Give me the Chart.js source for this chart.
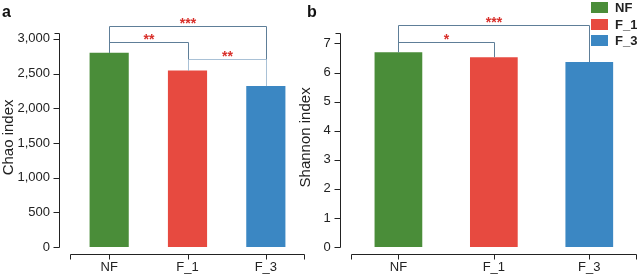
<!DOCTYPE html>
<html>
<head>
<meta charset="utf-8">
<script src="https://cdn.jsdelivr.net/npm/chart.js@4.4.1/dist/chart.umd.min.js"></script>
<style>
    body { margin: 0; background: #fff; }
    #wrap { position: relative; width: 637px; height: 275px; font-family: "Liberation Sans", Arial, sans-serif; }
    #chaoBox { position: absolute; left: 0; top: 0; width: 305px; height: 275px; }
    #shannonBox { position: absolute; left: 290px; top: 0; width: 347px; height: 275px; }
    .legend { position: absolute; left: 591px; font-weight: bold; font-size: 13px; color: #222; }
    .legend span { position: absolute; left: 0; top: 0; width: 17px; height: 11px; }
    .legend b { position: absolute; left: 24px; top: -2px; }
</style>
</head>
<body>
<div id="wrap">
    <div id="chaoBox"><canvas id="chaoChart"></canvas></div>
    <div id="shannonBox"><canvas id="shannonChart"></canvas></div>
    <div id="legend"></div>
</div>
<script>
// data
const groups = ['NF', 'F_1', 'F_3'];
const groupColors = ['#4a8d39', '#e74a40', '#3b87c3'];
const chaoValues = [2800, 2545, 2320];
const shannonValues = [6.70, 6.53, 6.36];
const chaoTicks = [0, 500, 1000, 1500, 2000, 2500, 3000];
const shannonTicks = [0, 1, 2, 3, 4, 5, 6, 7];

// significance brackets: [from, to, stars, level, light]
const chaoSig = [
    [0, 2, '***', 3190, false],
    [0, 1, '**', 2950, false],
    [1, 2, '**', 2710, true]
];
const shannonSig = [
    [0, 2, '***', 7.65, false],
    [0, 1, '*', 7.06, false]
];

const AXIS = '#222';

// legend on the right
const legendEl = document.getElementById('legend');
groups.forEach(function(g, i) {
    const row = document.createElement('div');
    row.className = 'legend';
    row.style.top = (2 + i * 16.5) + 'px';
    row.innerHTML = '<span style="background:' + groupColors[i] + '"></span><b>' + g + '</b>';
    legendEl.appendChild(row);
});

// axis lines offset from the bars, brackets and panel letter
const decorPlugin = {
    id: 'decor',
    afterDraw: function(chart) {
        const ctx = chart.ctx;
        const area = chart.chartArea;
        const xs = chart.scales.x;
        const ys = chart.scales.y;
        const opts = chart.options.plugins.decor;

        ctx.save();
        ctx.strokeStyle = AXIS;
        ctx.lineWidth = 1;

        // y axis
        const ax = Math.round(area.left - 11) + 0.5;
        const y0 = Math.round(ys.getPixelForValue(0)) + 0.5;
        const yTop = Math.round(ys.getPixelForValue(opts.axisTop)) + 0.5;
        ctx.beginPath();
        ctx.moveTo(ax, y0);
        ctx.lineTo(ax, yTop);
        ctx.moveTo(ax - 5, yTop);
        ctx.lineTo(ax, yTop);
        ys.ticks.forEach(function(t) {
            const py = Math.round(ys.getPixelForValue(t.value)) + 0.5;
            ctx.moveTo(ax - 6, py);
            ctx.lineTo(ax, py);
        });
        ctx.stroke();

        // x axis
        const bx = Math.round(area.bottom + 7) + 0.5;
        const xl = Math.round(area.left) + 0.5;
        const xr = Math.round(area.right) - 0.5;
        ctx.beginPath();
        ctx.moveTo(xl, bx);
        ctx.lineTo(xr, bx);
        [xl, xr].forEach(function(px) {
            ctx.moveTo(px, bx);
            ctx.lineTo(px, bx + 5);
        });
        groups.forEach(function(g, i) {
            const px = Math.round(xs.getPixelForValue(i)) + 0.5;
            ctx.moveTo(px, bx);
            ctx.lineTo(px, bx + 5);
        });
        ctx.stroke();

        // significance brackets
        const values = chart.data.datasets[0].data;
        const order = opts.sig.filter(s => !s[4]).concat(opts.sig.filter(s => s[4]));
        order.forEach(function(s) {
            const xa = Math.round(xs.getPixelForValue(s[0])) + 0.5;
            const xb = Math.round(xs.getPixelForValue(s[1])) + 0.5;
            const ly = Math.round(ys.getPixelForValue(s[3])) + 0.5;
            ctx.strokeStyle = s[4] ? '#a9c1d6' : '#5e7e98';
            ctx.beginPath();
            ctx.moveTo(xa, ys.getPixelForValue(values[s[0]]));
            ctx.lineTo(xa, ly);
            ctx.lineTo(xb, ly);
            ctx.lineTo(xb, ys.getPixelForValue(values[s[1]]));
            ctx.stroke();

            ctx.fillStyle = '#d8302b';
            ctx.font = 'bold 14px "Liberation Sans", Arial, sans-serif';
            ctx.textAlign = 'center';
            ctx.textBaseline = 'alphabetic';
            ctx.fillText(s[2], (xa + xb) / 2, ly + 1);
        });

        // panel letter
        ctx.fillStyle = '#111';
        ctx.font = 'bold 16px "Liberation Sans", Arial, sans-serif';
        ctx.textAlign = 'left';
        ctx.textBaseline = 'alphabetic';
        ctx.fillText(opts.letter, opts.letterX, 17);
        ctx.restore();
    }
};

function makeChart(id, values, yMax, tickValues, axisTop, title, sig, letter, letterX, padLeft, axisWidth) {
    const ctx = document.getElementById(id).getContext('2d');
    return new Chart(ctx, {
        type: 'bar',
        data: {
            labels: groups,
            datasets: [{
                data: values,
                backgroundColor: groupColors,
                borderWidth: 0,
                barPercentage: 0.5,
                categoryPercentage: 1
            }]
        },
        options: {
            responsive: true,
            maintainAspectRatio: false,
            animation: false,
            layout: {
                padding: { top: 23, left: padLeft, right: 0, bottom: 0 }
            },
            plugins: {
                legend: { display: false },
                tooltip: { enabled: false },
                decor: { axisTop: axisTop, sig: sig, letter: letter, letterX: letterX }
            },
            scales: {
                x: {
                    grid: { display: false, drawTicks: false },
                    border: { display: false },
                    ticks: {
                        color: AXIS,
                        padding: 13,
                        font: { family: '"Liberation Sans", Arial, sans-serif', size: 13 }
                    },
                    afterFit: function(scale) { scale.height = 28; }
                },
                y: {
                    min: 0,
                    max: yMax,
                    grid: { display: false, drawTicks: false },
                    border: { display: false },
                    afterBuildTicks: function(scale) {
                        scale.ticks = tickValues.map(function(v) { return { value: v }; });
                    },
                    ticks: {
                        color: AXIS,
                        padding: 20,
                        font: { family: '"Liberation Sans", Arial, sans-serif', size: 13 },
                        callback: function(value) {
                            return value.toLocaleString('en-US');
                        }
                    },
                    title: {
                        display: true,
                        text: title,
                        color: AXIS,
                        padding: { top: 0, bottom: 0 },
                        font: { family: '"Liberation Sans", Arial, sans-serif', size: 15 }
                    },
                    afterFit: function(scale) { scale.width = axisWidth; }
                }
            }
        },
        plugins: [decorPlugin]
    });
}

document.addEventListener('DOMContentLoaded', function() {
    makeChart('chaoChart', chaoValues, 3160, chaoTicks, 3085, 'Chao index', chaoSig, 'a', 2, 0, 70);
    makeChart('shannonChart', shannonValues, 7.54, shannonTicks, 7.36, 'Shannon index', shannonSig, 'b', 17, 7, 53.7);
});
</script>
</body>
</html>
